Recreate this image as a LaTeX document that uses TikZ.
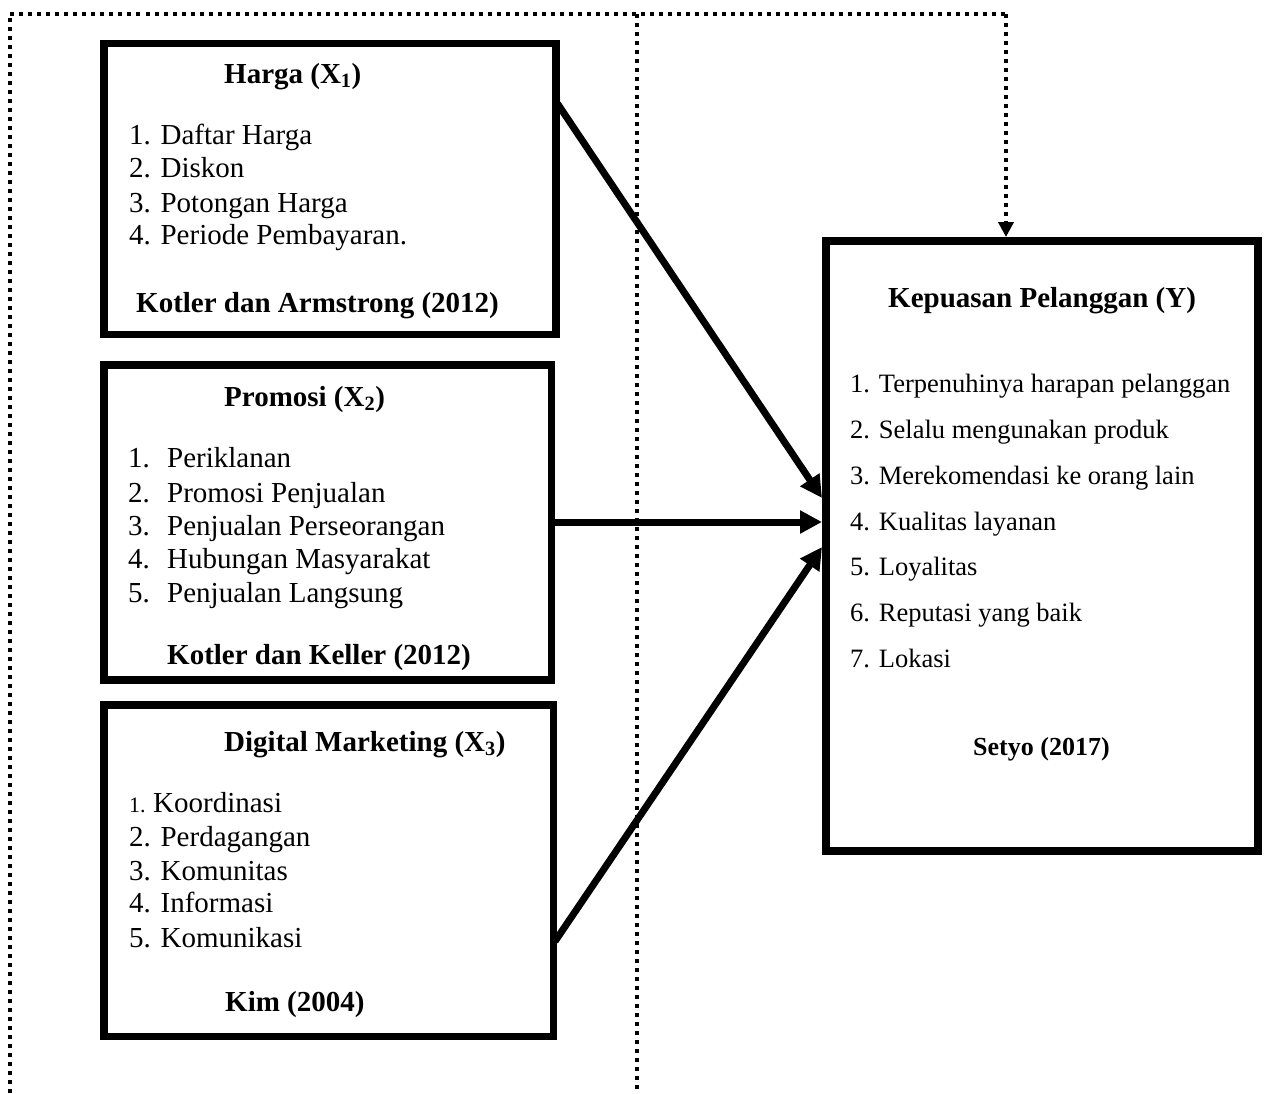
\documentclass[tikz,border=0pt]{standalone}
\usepackage{fontspec}
\setmainfont{Liberation Serif}
\usetikzlibrary{arrows.meta}
\begin{document}
\begin{tikzpicture}[x=1pt,y=-1pt,
  box/.style={draw, line width=7.5pt, inner sep=0pt},
  itm/.style={anchor=base west, inner sep=0pt, font=\fontsize{29}{33}\selectfont},
  ttl/.style={anchor=base west, inner sep=0pt, font=\fontsize{29}{33}\selectfont\bfseries},
  ritm/.style={anchor=base west, inner sep=0pt, font=\fontsize{26.5}{30}\selectfont},
  arr/.style={line width=7pt, -{Triangle[length=22pt,width=22pt]}},
  dotline/.style={line width=4pt, dash pattern=on 4pt off 5pt}
]
\fill[white] (0,0) rectangle (1264,1093);
\useasboundingbox (0,0) rectangle (1264,1093);

% boxes
\node[box, minimum width=452pt, minimum height=291pt] (h) at (330,189) {};
\node[box, minimum width=447.5pt, minimum height=315pt] (p) at (327.75,522.5) {};
\node[box, minimum width=449.5pt, minimum height=331.5pt] (d) at (328.75,870.75) {};
\node[box, line width=8pt, minimum width=432pt, minimum height=610pt] (y) at (1042,546) {};

% dotted frame
\coordinate (tl) at (9.5,14);
\coordinate (bl) at (9.5,1093);
\coordinate (tm) at (637,14);
\coordinate (bm) at (637,1093);
\coordinate (tr) at (1006,14);
\draw[dotline] (bl) -- (tl) -- (tr);
\draw[dotline] (tm) -- (bm);
\draw[dotline, -{Triangle[length=15pt,width=15pt]}] (tr) -- (y.north -| tr);

% Harga
\node[ttl] (h0) at (224,83) {Harga (X\textsubscript{1})};
\node[itm] (h1) at (129,144) {1. Daftar Harga};
\node[itm] (h2) at (129,177) {2. Diskon};
\node[itm] (h3) at (129,212) {3. Potongan Harga};
\node[itm] (h4) at (129,244) {4. Periode Pembayaran.};
\node[ttl] (h5) at (136,312) {Kotler dan Armstrong (2012)};

% Promosi
\node[ttl] (p0) at (224,406) {Promosi (X\textsubscript{2})};
\node[itm] (pn1) at (128,467) {1.};
\node[itm] (p1) at (167,467) {Periklanan};
\node[itm] (pn2) at (128,502) {2.};
\node[itm] (p2) at (167,502) {Promosi Penjualan};
\node[itm] (pn3) at (128,535) {3.};
\node[itm] (p3) at (167,535) {Penjualan Perseorangan};
\node[itm] (pn4) at (128,568) {4.};
\node[itm] (p4) at (167,568) {Hubungan Masyarakat};
\node[itm] (pn5) at (128,602) {5.};
\node[itm] (p5) at (167,602) {Penjualan Langsung};
\node[ttl] (p6) at (167,664) {Kotler dan Keller (2012)};

% Digital Marketing
\node[ttl] (d0) at (224,751) {Digital Marketing (X\textsubscript{3})};
\node[itm, font=\fontsize{22}{26}\selectfont] (dn1) at (129,812) {1.};
\node[itm] (d1) at (153,812) {Koordinasi};
\node[itm] (d2) at (129,846) {2. Perdagangan};
\node[itm] (d3) at (129,880) {3. Komunitas};
\node[itm] (d4) at (129,912) {4. Informasi};
\node[itm] (d5) at (129,947) {5. Komunikasi};
\node[ttl] (d6) at (225,1011) {Kim (2004)};

% Kepuasan
\node[ttl] (y0) at (888,307) {Kepuasan Pelanggan (Y)};
\node[ritm] (y1) at (850,392) {1. Terpenuhinya harapan pelanggan};
\node[ritm] (y2) at (850,438) {2. Selalu mengunakan produk};
\node[ritm] (y3) at (850,484) {3. Merekomendasi ke orang lain};
\node[ritm] (y4) at (850,530) {4. Kualitas layanan};
\node[ritm] (y5) at (850,575) {5. Loyalitas};
\node[ritm] (y6) at (850,621) {6. Reputasi yang baik};
\node[ritm] (y7) at (850,667) {7. Lokasi};
\node[ttl, font=\fontsize{26}{30}\selectfont\bfseries] (y8) at (973,755) {Setyo (2017)};

% arrows
\draw[arr, shorten <=-4pt] (h.east |- 0,107) -- (y.west |- 0,498);
\draw[arr] (p.east |- 0,522) -- (y.west |- 0,522);
\draw[arr, shorten <=-4pt] (d.east |- 0,938) -- (y.west |- 0,547);
\end{tikzpicture}
\end{document}
